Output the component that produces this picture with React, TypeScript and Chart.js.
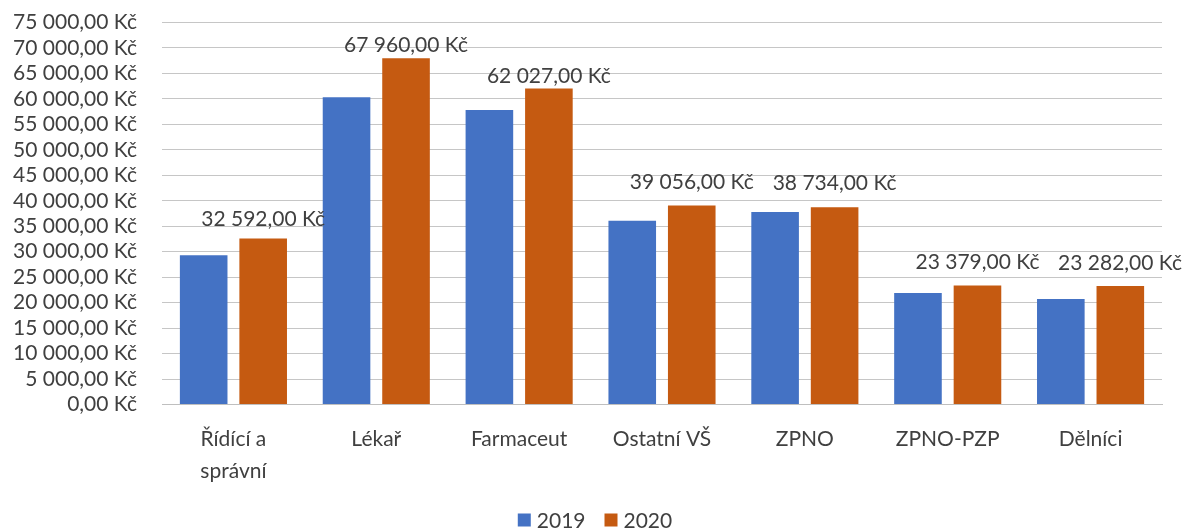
import React, { useEffect, useRef } from "react";
import { Chart, registerables } from "chart.js";

Chart.register(...registerables);

const categories: (string | string[])[] = [
  ["Řídící a", "správní"],
  "Lékař",
  "Farmaceut",
  "Ostatní VŠ",
  "ZPNO",
  "ZPNO-PZP",
  "Dělníci",
];
const values2019 = [29300, 60300, 57800, 36100, 37800, 21900, 20700];
const values2020 = [32592, 67960, 62027, 39056, 38734, 23379, 23282];
const seriesNames = ["2019", "2020"];
const colors = ["#4472C4", "#C55A11"];
// vertical gap (px) between each 2020 bar top and its value label centre
const labelGaps = [19, 13, 12, 23, 24, 23, 23];

const FONT = "Lato, 'Open Sans', sans-serif";
const TEXT = "#404040";

function fmt(v: number): string {
  const s = Math.round(v).toString().replace(/\B(?=(\d{3})+(?!\d))/g, " ");
  return s + ",00 Kč";
}

const labelPlugin = {
  id: "valueLabels",
  afterDatasetsDraw(chart: any) {
    const ctx = chart.ctx;
    const meta = chart.getDatasetMeta(1);
    ctx.save();
    ctx.font = `21px ${FONT}`;
    ctx.fillStyle = TEXT;
    ctx.textAlign = "center";
    ctx.textBaseline = "middle";
    meta.data.forEach((el: any, i: number) => {
      const txt = fmt(values2020[i]);
      const w = ctx.measureText(txt).width;
      let x = el.x;
      if (x + w / 2 > chart.width - 2) x = chart.width - 2 - w / 2;
      ctx.fillText(txt, x, el.y - labelGaps[i]);
    });
    ctx.restore();
  },
};

const legendPlugin = {
  id: "customLegend",
  afterDraw(chart: any) {
    const ctx = chart.ctx;
    ctx.save();
    ctx.font = `21px ${FONT}`;
    ctx.textBaseline = "middle";
    ctx.textAlign = "left";
    const box = 13;
    const gap = 6;
    const spacing = 19;
    const items = chart.data.datasets.map((d: any) => ({
      label: d.label,
      color: d.backgroundColor,
      w: box + gap + ctx.measureText(d.label).width,
    }));
    const total = items.reduce((a: number, it: any) => a + it.w, 0) + spacing * (items.length - 1);
    let x = chart.width / 2 + 3 - total / 2;
    const y = 520;
    items.forEach((it: any) => {
      ctx.fillStyle = it.color;
      ctx.fillRect(x, y - box / 2, box, box);
      ctx.fillStyle = TEXT;
      ctx.fillText(it.label, x + box + gap, y + 1);
      x += it.w + spacing;
    });
    ctx.restore();
  },
};

export default function App() {
  const ref = useRef<HTMLCanvasElement | null>(null);
  useEffect(() => {
    document.body.style.margin = "0";
    const chart = new Chart(ref.current!, {
      type: "bar",
      data: {
        labels: categories,
        datasets: [
          { label: seriesNames[0], data: values2019, backgroundColor: colors[0] },
          { label: seriesNames[1], data: values2020, backgroundColor: colors[1] },
        ],
      },
      options: {
        animation: false,
        responsive: false,
        maintainAspectRatio: false,
        layout: { padding: { top: 22.5, right: 22, left: 0, bottom: 0 } },
        datasets: { bar: { categoryPercentage: 0.833, barPercentage: 0.8 } },
        plugins: {
          legend: { display: false },
          tooltip: { enabled: false },
        },
        scales: {
          y: {
            min: 0,
            max: 75000,
            ticks: {
              stepSize: 5000,
              autoSkip: false,
              font: { size: 21, family: FONT },
              color: TEXT,
              padding: 0,
              callback: (v: any) => fmt(Number(v)),
            },
            grid: {
              color: "#c6c6c6",
              drawTicks: true,
              tickLength: 25,
              tickColor: "rgba(0,0,0,0)",
            },
            border: { display: false },
            afterFit: (s: any) => {
              s.width = 162;
            },
          },
          x: {
            ticks: {
              autoSkip: false,
              font: { size: 21, family: FONT, lineHeight: 1.5 },
              color: TEXT,
              padding: 11,
              maxRotation: 0,
            },
            grid: { display: false },
            border: { display: true, color: "#bfbfbf" },
            afterFit: (s: any) => {
              s.height = 123.5;
            },
          },
        },
      },
      plugins: [labelPlugin, legendPlugin],
    });
    return () => chart.destroy();
  }, []);
  return (
    <div style={{ width: 1184, height: 528 }}>
      <canvas ref={ref} width={1184} height={528} />
    </div>
  );
}
